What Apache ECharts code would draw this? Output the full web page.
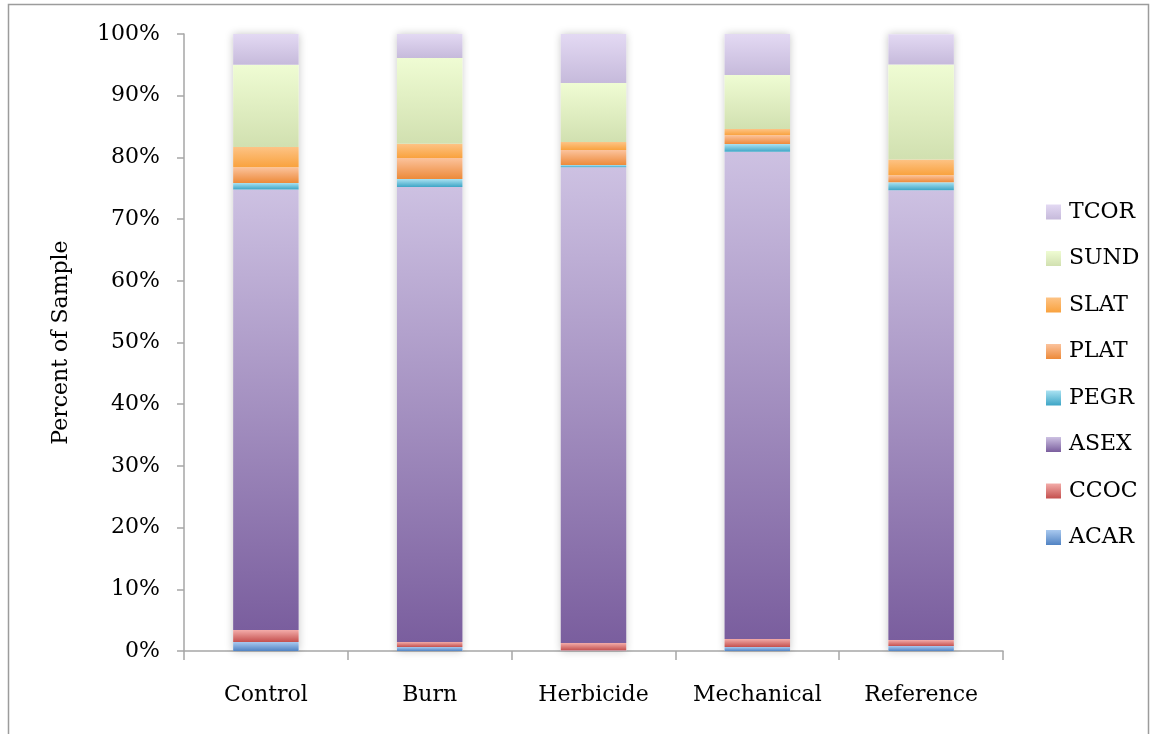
<!DOCTYPE html>
<html>
<head>
<meta charset="utf-8">
<script src="https://cdn.jsdelivr.net/npm/echarts@6/dist/echarts.min.js"></script>
<style>
  html, body { margin: 0; padding: 0; background: #fff; }
  #chart { width: 1151px; height: 734px; }
</style>
</head>
<body>
<div id="chart"></div>
<script>
// treatments on the x axis
const categories = ['Control', 'Burn', 'Herbicide', 'Mechanical', 'Reference'];

// percent of sample (bottom to top)
const ACAR = [1.46, 0.65, 0.1, 0.65, 0.8];
const CCOC = [1.94, 0.81, 1.2, 1.3, 0.97];
const ASEX = [71.4, 73.74, 77.1, 78.95, 72.9];
const PEGR = [1.05, 1.3, 0.35, 1.27, 1.3];
const PLAT = [2.55, 3.4, 2.43, 1.43, 1.15];
const SLAT = [3.3, 2.3, 1.3, 1.0, 2.55];
const SUND = [13.3, 13.9, 9.56, 8.75, 15.4];
const TCOR = [5.0, 3.9, 7.94, 6.65, 4.9];

const yTicks = [0, 10, 20, 30, 40, 50, 60, 70, 80, 90, 100];

const font = 'DejaVu Serif';

function grad(top, bottom) {
    return new echarts.graphic.LinearGradient(0, 0, 0, 1, [
        { offset: 0, color: top },
        { offset: 1, color: bottom }
    ]);
}

const seriesDefs = [
    { name: 'ACAR', data: ACAR, color: grad('#a9c9ef', '#5183c3') },
    { name: 'CCOC', data: CCOC, color: grad('#f3aca9', '#c4504e') },
    { name: 'ASEX', data: ASEX, color: grad('#cdc1e2', '#7a5e9e') },
    { name: 'PEGR', data: PEGR, color: grad('#aae2f2', '#3da5c6') },
    { name: 'PLAT', data: PLAT, color: grad('#fbc39d', '#ed8a39') },
    { name: 'SLAT', data: SLAT, color: grad('#fdc385', '#f9a23e') },
    { name: 'SUND', data: SUND, color: grad('#effcd3', '#d1e0b0') },
    { name: 'TCOR', data: TCOR, color: grad('#e3d9f3', '#c6badb') }
];

// totals, only used to draw the soft shadow behind each column
const totals = categories.map((c, i) => seriesDefs.reduce((s, d) => s + d.data[i], 0));

const chart = echarts.init(document.getElementById('chart'));

const series = [{
    name: 'shadow',
    type: 'bar',
    data: totals,
    barWidth: '40%',
    barGap: '-100%',
    silent: true,
    z: 1,
    itemStyle: {
        color: '#ffffff',
        shadowBlur: 8,
        shadowColor: 'rgba(0,0,0,0.22)'
    }
}].concat(seriesDefs.map(d => ({
    name: d.name,
    type: 'bar',
    stack: 'total',
    barWidth: '40%',
    z: 2,
    data: d.data,
    itemStyle: { color: d.color }
})));

chart.setOption({
    animation: false,
    backgroundColor: '#ffffff',
    textStyle: { fontFamily: font },
    graphic: [{
        type: 'rect',
        shape: { x: 8.5, y: 4.5, width: 1140, height: 760 },
        style: { fill: 'none', stroke: '#9c9c9c', lineWidth: 1.5 },
        silent: true
    }],
    grid: {
        left: 184,
        right: 148,
        top: 34,
        bottom: 83
    },
    legend: {
        orient: 'vertical',
        left: 1046,
        top: 201,
        padding: 0,
        itemWidth: 15,
        itemHeight: 15,
        itemGap: 24.5,
        icon: 'rect',
        data: ['TCOR', 'SUND', 'SLAT', 'PLAT', 'PEGR', 'ASEX', 'CCOC', 'ACAR'],
        textStyle: { fontFamily: font, fontSize: 22, color: '#000', lineHeight: 22, padding: [0, 0, 0, 3] }
    },
    xAxis: {
        type: 'category',
        data: categories,
        axisLine: { lineStyle: { color: '#a6a6a6', width: 1.5 } },
        axisTick: { show: true, interval: 0, length: 9, lineStyle: { color: '#a6a6a6', width: 1.5 } },
        axisLabel: { interval: 0, fontFamily: font, fontSize: 22, color: '#000', margin: 33 }
    },
    yAxis: {
        type: 'value',
        min: yTicks[0],
        max: yTicks[yTicks.length - 1],
        interval: 10,
        name: 'Percent of Sample',
        nameLocation: 'middle',
        nameGap: 112,
        nameTextStyle: { fontFamily: font, fontSize: 22, color: '#000' },
        splitLine: { show: false },
        axisLine: { show: true, lineStyle: { color: '#a6a6a6', width: 1.5 } },
        axisTick: { show: true, length: 7, lineStyle: { color: '#a6a6a6', width: 1.5 } },
        axisLabel: {
            fontFamily: font,
            fontSize: 22,
            color: '#000',
            margin: 24,
            formatter: '{value}%'
        }
    },
    series: series
});
</script>
</body>
</html>
